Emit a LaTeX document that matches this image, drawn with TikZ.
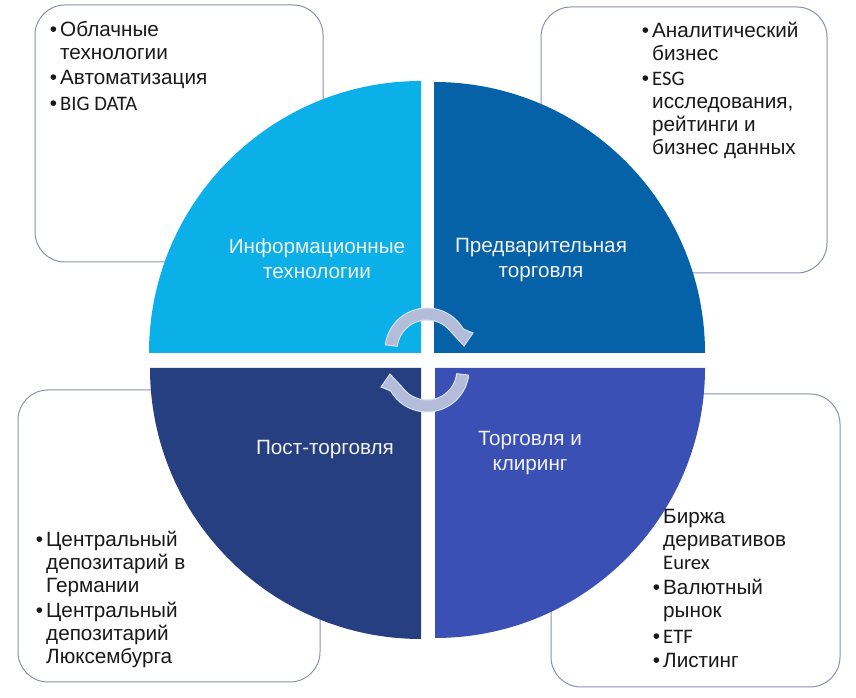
\documentclass[tikz,border=0pt]{standalone}
\usepackage{fontspec}
\setmainfont{Liberation Sans}
\newfontfamily\latinfont{Carlito}
\definecolor{infocolor}{HTML}{0BB0E8}
\definecolor{precolor}{HTML}{0561A8}
\definecolor{postcolor}{HTML}{263F80}
\definecolor{tradecolor}{HTML}{3B50B5}
\definecolor{framecolor}{HTML}{8A8FB8}
\definecolor{turncolor}{HTML}{B3BDD9}
\definecolor{turnedge}{HTML}{D5E2F0}
\newcommand{\bul}{\makebox[0pt][r]{•\hspace{3pt}}}
\newcommand{\lat}[1]{{\latinfont\fontsize{20.6}{23}\selectfont #1}}
\tikzset{
    infobox/.style={draw=framecolor, line width=1pt, fill=white, rounded corners=30pt},
    listtext/.style={anchor=north west, inner sep=0pt, align=left, text=black!90, font=\fontsize{20.7}{23}\selectfont},
    sectortext/.style={inner sep=0pt, align=center, text=white!95!black, font=\fontsize{20.7}{25}\selectfont},
    turnarrow/.style={fill=turncolor, draw=turnedge, line width=1pt, line join=miter}
}

\begin{document}
\begin{tikzpicture}[x=1pt, y=1pt]
    \useasboundingbox (0,0) rectangle (856,698);

    % Рамки со списками
    \foreach \xa/\ya/\xb/\yb in {35/436/323/693, 541/425/827/691, 18/16/320/308, 551/11/840/304} {
        \draw[infobox] (\xa,\ya) rectangle (\xb,\yb);
    }

    % Четыре сектора круга
    \fill[infocolor] (421,345) -- (149,345) arc (180:90:272) -- cycle;
    \fill[precolor] (434,345) -- (705,345) arc (0:90:271) -- cycle;
    \fill[postcolor] (421,330) -- (150,330) arc (180:270:271) -- cycle;
    \fill[tradecolor] (435,330) -- (705,330) arc (0:-90:270) -- cycle;

    % Круговые стрелки
    \foreach \a in {0,180} {
        \draw[turnarrow, rotate around={\a:(427,338)}] (385.3,353.1) arc (173:30:42)
            -- (473,365) -- (464,352) -- (452,365) -- (449.3,368.1) arc (42:173:30) -- cycle;
    }

    % Подписи секторов
    \node[sectortext] (info) at (317,439) {Информационные\\технологии};
    \node[sectortext] (pre) at (541,438) {Предварительная\\торговля};
    \node[sectortext] (post) at (325,248) {Пост-торговля};
    \node[sectortext] (trade) at (530,245) {Торговля и\\клиринг};

    % Списки
    \node[listtext] (infolist) at (60,677) {\bul Облачные\\технологии\\[2pt]\bul Автоматизация\\[3pt]\bul\lat{BIG DATA}};
    \node[listtext] (prelist) at (652,676) {\bul Аналитический\\бизнес\\[2pt]\bul\lat{ESG}\\исследования,\\рейтинги и\\бизнес данных};
    \node[listtext] (postlist) at (46,167) {\bul Центральный\\депозитарий в\\Германии\\[2pt]\bul Центральный\\депозитарий\\Люксембурга};
    \node[listtext] (tradelist) at (663,189) {Биржа\\деривативов\\\lat{Eurex}\\[2pt]\bul Валютный\\рынок\\[3pt]\bul\lat{ETF}\\[1pt]\bul Листинг};
\end{tikzpicture}
\end{document}
